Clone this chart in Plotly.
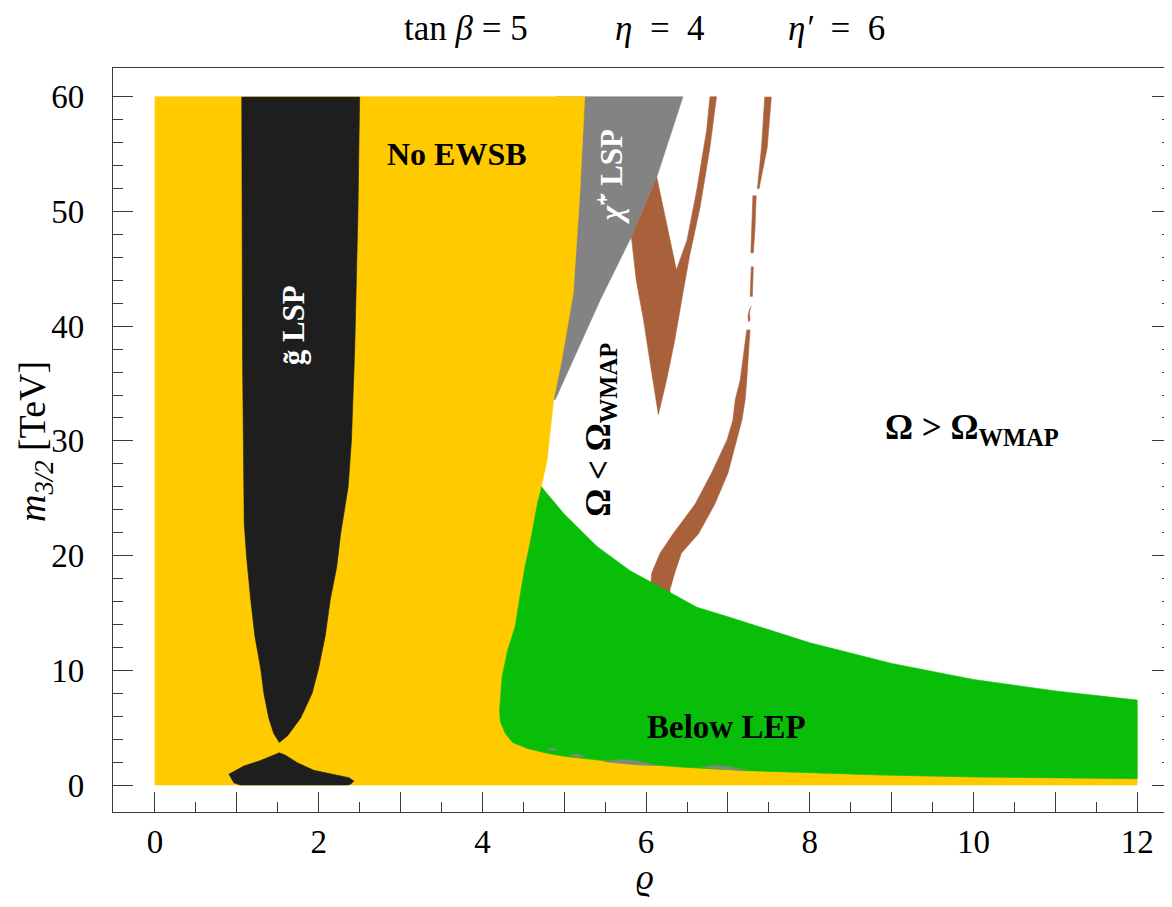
import plotly.graph_objects as go

# ---------------- region boundaries (rho, m_3/2 [TeV]) ----------------
# No-EWSB (yellow) right edge, top -> bottom
yellow_edge_rho = [5.25, 5.19, 5.11, 4.97, 4.87, 4.79, 4.72]
yellow_edge_m = [60.0, 51.6, 42.9, 37.1, 33.6, 28.3, 26.0]

# Below-LEP (green) region
green_top_rho = [4.72, 4.99, 5.40, 5.80, 6.21, 6.62, 7.03, 8.0, 9.0, 10.0, 11.0, 12.0]
green_top_m = [26.0, 23.7, 20.8, 18.7, 17.1, 15.5, 14.6, 12.4, 10.6, 9.2, 8.2, 7.4]
green_bottom_rho = [12.0, 11.0, 10.0, 8.86, 8.04, 7.23, 6.41, 5.6, 5.0, 4.79, 4.54, 4.37]
green_bottom_m = [0.55, 0.62, 0.70, 0.87, 1.04, 1.25, 1.57, 2.03, 2.5, 2.76, 3.2, 3.7]
green_left_rho = [4.28, 4.22, 4.21, 4.24, 4.31, 4.40, 4.46, 4.52, 4.58, 4.64, 4.68]
green_left_m = [4.5, 5.5, 6.5, 9.4, 11.8, 13.8, 16.5, 19.0, 21.0, 23.1, 24.8]

# chargino LSP (gray) right edge, top -> tip
gray_edge_rho = [6.45, 6.13, 5.82, 5.44, 4.89]
gray_edge_m = [60.0, 53.0, 47.8, 42.3, 33.6]

# gluino LSP (black) upper tongue
black_right_rho = [2.50, 2.48, 2.44, 2.40, 2.36, 2.27, 2.22, 2.14, 2.08, 2.00, 1.92, 1.78, 1.62, 1.52]
black_right_m = [60, 50, 38, 30, 26, 22, 19, 16.1, 13, 10.2, 8, 5.85, 4.3, 3.7]
black_left_rho = [1.45, 1.39, 1.33, 1.29, 1.22, 1.17, 1.12, 1.09, 1.07, 1.06]
black_left_m = [4.5, 5.85, 8, 10.2, 13, 16.1, 19.8, 22.8, 37, 60]
# gluino LSP lower blob
blob_rho = [0.90, 1.085, 1.29, 1.45, 1.52, 1.59, 1.74, 1.94, 2.18, 2.37, 2.43, 2.39, 2.35, 1.04, 0.96]
blob_m = [0.93, 1.65, 2.14, 2.61, 2.81, 2.61, 1.94, 1.28, 0.93, 0.64, 0.35, 0.06, 0.0, 0.0, 0.2]

# WMAP band (brown): V-shaped piece
brownV_rho = [6.13, 6.25, 6.37, 6.50, 6.62, 6.74, 6.78, 6.86, 6.78, 6.66, 6.53, 6.45, 6.35, 6.25, 6.15,
              6.05, 5.97, 5.88, 5.82]
brownV_m = [53.0, 49.0, 44.9, 47.5, 51.9, 57.1, 60.0, 60.0, 55.6, 50.4, 46.1, 42.9, 38.8, 35.3, 32.3,
            36.8, 40.5, 44.0, 47.8]
# WMAP band (brown): thin strip, broken into pieces
stripA_m = [60.0, 55.6, 52.0]
stripA_left = [7.45, 7.41, 7.36]
stripA_right = [7.53, 7.48, 7.38]
stripB_m = [51.4, 48.5, 46.4]
stripB_left = [7.305, 7.29, 7.28]
stripB_right = [7.345, 7.33, 7.31]
stripC_m = [45.2, 42.6]
stripC_left = [7.285, 7.272]
stripC_right = [7.31, 7.298]
arcD_rho = [7.29, 7.26, 7.245, 7.25, 7.27, 7.262, 7.262, 7.275]
arcD_m = [41.8, 41.4, 40.9, 40.4, 40.5, 40.9, 41.2, 41.6]
stripE_m = [39.7, 35.3, 33.6, 31.8, 30.1, 27.2, 24.5, 21.9, 20.2, 18.5, 17.0, 16.0]
stripE_left = [7.23, 7.15, 7.09, 7.06, 6.99, 6.80, 6.60, 6.33, 6.17, 6.07, 6.05, 6.04]
stripE_right = [7.27, 7.23, 7.21, 7.17, 7.11, 7.00, 6.84, 6.64, 6.43, 6.35, 6.29, 6.31]

# small grayish patches at the lower edge of the green region
patch1_rho = [4.79, 4.85, 4.92, 4.86]
patch1_m = [3.1, 3.22, 3.08, 2.98]
patch2_rho = [5.06, 5.15, 5.25, 5.15]
patch2_m = [2.55, 2.72, 2.5, 2.42]
patch3_rho = [5.48, 5.60, 5.72, 5.90, 6.13, 5.90, 5.70, 5.50]
patch3_m = [2.08, 2.18, 2.22, 2.10, 1.70, 1.75, 1.90, 2.02]
patch4_rho = [6.66, 6.82, 7.00, 7.23, 7.00, 6.80]
patch4_m = [1.50, 1.70, 1.62, 1.30, 1.36, 1.45]

# axis ticks
x_labelled = list(range(0, 13, 2))
x_labels = [str(v) for v in x_labelled]
x_odd = list(range(1, 12, 2))
x_minor = [v + 0.5 for v in range(0, 12)]
y_major = list(range(0, 61, 10))
y_labels = [str(v) for v in y_major]
y_minor = [v for v in range(2, 60, 2) if v % 10 != 0]

YELLOW = "#FFCB00"
BLACK = "#1E1E1E"
GRAY = "#838383"
GREEN = "#08BE08"
BROWN = "#A9613C"
PATCH = "#7C8C76"

fig = go.Figure()


def region(xs, ys, color):
    fig.add_trace(go.Scatter(x=xs, y=ys, mode="lines", fill="toself", fillcolor=color,
                             line=dict(width=0.6, color=color), hoverinfo="skip", showlegend=False))


# gray first (its hidden left side lies under the yellow)
gray_x = [4.9] + gray_edge_rho + [4.7]
gray_y = [60.0] + gray_edge_m + [33.6]
region(gray_x, gray_y, GRAY)

# yellow: left part plus the strip under the green region
yel_x = [0, 0] + yellow_edge_rho + green_top_rho[1:] + [12, 0]
yel_y = [0, 60] + yellow_edge_m + [v - 0.5 for v in green_top_m[1:]] + [0, 0]
region(yel_x, yel_y, YELLOW)

# black gluino-LSP regions
region(black_right_rho + black_left_rho, black_right_m + black_left_m, BLACK)
region(blob_rho, blob_m, BLACK)

# brown WMAP regions
region(brownV_rho, brownV_m, BROWN)
for lm, ll, lr in [(stripA_m, stripA_left, stripA_right), (stripB_m, stripB_left, stripB_right),
                   (stripC_m, stripC_left, stripC_right), (stripE_m, stripE_left, stripE_right)]:
    region(ll + lr[::-1], lm + lm[::-1], BROWN)
region(arcD_rho, arcD_m, BROWN)

# green below-LEP region
region(green_top_rho + green_bottom_rho + green_left_rho,
       green_top_m + green_bottom_m + green_left_m, GREEN)

for px, py in [(patch1_rho, patch1_m), (patch2_rho, patch2_m), (patch3_rho, patch3_m), (patch4_rho, patch4_m)]:
    region(px, py, PATCH)

# empty trace that carries the overlay axis used for the unlabelled odd ticks
fig.add_trace(go.Scatter(x=x_odd, y=[None] * len(x_odd), xaxis="x2", mode="lines",
                         hoverinfo="skip", showlegend=False))

# --------------- layout ---------------
# the page body adds an 8 px margin, so the figure is placed at (8, 8)
OFF = 8
W, H = 1164, 899
L, R, T, B = 105, 0, 60, 95
PW, PH = W - L - R, H - T - B
PAGE_LEFT, PAGE_BOTTOM = L + OFF, H - B + OFF


def px2paper(px, py):
    return (px - PAGE_LEFT) / PW, (PAGE_BOTTOM - py) / PH


SERIF = "Liberation Serif, Times New Roman, serif"
AXC = "#3a3a3a"
XR = [-0.513, 12.425]

fig.update_layout(
    width=W, height=H, autosize=False,
    margin=dict(l=L, r=R, t=T, b=B, pad=0),
    paper_bgcolor="white", plot_bgcolor="white",
    font=dict(family=SERIF, size=33, color="black"),
    xaxis=dict(range=XR, tickmode="array", tickvals=x_labelled, ticktext=x_labels,
               ticks="inside", ticklen=20, tickwidth=1.2, tickcolor=AXC,
               minor=dict(tickmode="array", tickvals=x_minor, ticks="inside", ticklen=10,
                          tickwidth=1.2, tickcolor=AXC),
               showline=True, linecolor=AXC, linewidth=1.2, mirror=True,
               showgrid=False, zeroline=False, automargin=False, ticklabelstandoff=0,
               tickfont=dict(family=SERIF, size=33, color="black")),
    xaxis2=dict(range=XR, overlaying="x", anchor="y", side="bottom", tickmode="array",
                tickvals=x_odd, ticks="inside", ticklen=20, tickwidth=1.2, tickcolor=AXC,
                showticklabels=False, showline=False, showgrid=False, zeroline=False,
                automargin=False),
    yaxis=dict(range=[-2.354, 62.51], tickmode="array", tickvals=y_major, ticktext=y_labels,
               ticks="inside", ticklen=20, tickwidth=1.2, tickcolor=AXC,
               minor=dict(tickmode="array", tickvals=y_minor, ticks="inside", ticklen=10,
                          tickwidth=1.2, tickcolor=AXC),
               showline=True, linecolor=AXC, linewidth=1.2, mirror="ticks",
               showgrid=False, zeroline=False, automargin=False, ticklabelstandoff=21,
               tickfont=dict(family=SERIF, size=33, color="black")),
)

ann = []


def paper_text(text, px, py, size=33, angle=0):
    x, y = px2paper(px, py)
    ann.append(dict(text=text, x=x, y=y, xref="paper", yref="paper", showarrow=False,
                    xanchor="center", yanchor="middle", textangle=angle,
                    font=dict(family=SERIF, size=size, color="black")))


def data_text(text, x, y, size=32, color="black", angle=0):
    ann.append(dict(text=text, x=x, y=y, xref="x", yref="y", showarrow=False,
                    xanchor="center", yanchor="middle", textangle=angle,
                    font=dict(family=SERIF, size=size, color=color)))


# title pieces
paper_text("tan <i>β</i> = 5", 466, 28, 35)
paper_text("<i>η</i>\u2002=\u20024", 660, 28, 35)
paper_text("<i>η′</i>\u2002=\u20026", 836, 28, 35)
# axis titles
paper_text("<i>ϱ</i>", 645, 878, 35)
paper_text("<i>m</i><sub><i>3/2</i></sub> [TeV]", 35, 442, 38, -90)

# region labels
data_text("<b>No EWSB</b>", 3.69, 55.0, 32)
data_text("<b>g\u0303 LSP</b>", 1.69, 40.1, 31, "white", -90)
data_text("<b><i>χ\u0303</i><sup>+</sup> LSP</b>", 5.55, 53.0, 31, "white", -90)
data_text("<b>Ω &lt; Ω<sub>WMAP</sub></b>", 5.44, 31.0, 35, "black", -90)
data_text("<b>Ω &gt; Ω<sub>WMAP</sub></b>", 9.98, 31.0, 35)
data_text("<b>Below LEP</b>", 6.98, 5.1, 33)

fig.update_layout(annotations=ann)
fig.write_html("out.html")
